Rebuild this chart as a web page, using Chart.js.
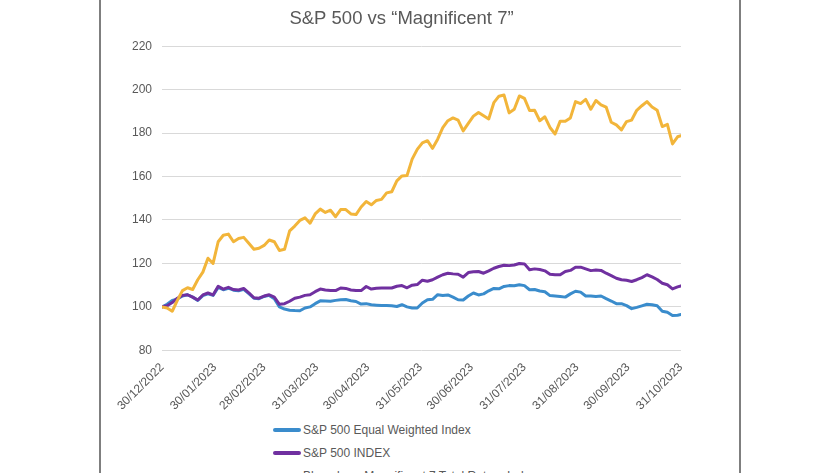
<!DOCTYPE html>
<html>
<head>
<meta charset="utf-8">
<script src="https://cdn.jsdelivr.net/npm/chart.js@4.4.1/dist/chart.umd.min.js"></script>
<style>
  html, body { margin: 0; padding: 0; background: #fff; overflow: hidden; }
  body { width: 840px; height: 473px; position: relative; font-family: "Liberation Sans", Arial, sans-serif; }
  #frame { position: absolute; left: 99px; top: -2px; width: 638px; height: 480px;
           border-left: 2px solid #7f7f7f; border-right: 2px solid #7f7f7f; }
  #chartBox { position: absolute; left: 101px; top: 0; width: 638px; height: 415px; }
  #legend { position: absolute; left: 273px; top: 418px; margin: 0; padding: 0; list-style: none; }
  #legend li { height: 23px; display: flex; align-items: center; font-size: 12px; color: #595959; }
  #legend li span { display: inline-block; width: 28px; height: 4px; border-radius: 2px; margin-right: 2px; }
</style>
</head>
<body>
<div id="frame"></div>
<div id="chartBox"><canvas id="mag7Chart"></canvas></div>
<ul id="legend"></ul>
<script>
// days since 30/12/2022
var days = [
    0, 3, 6, 9, 12, 15, 18, 21, 24, 27,
    30, 33, 36, 39, 42, 45, 48, 51, 54, 57,
    60, 63, 66, 69, 72, 75, 78, 81, 84, 87,
    90, 93, 96, 99, 102, 105, 108, 111, 114, 117,
    120, 123, 126, 129, 132, 135, 138, 141, 144, 147,
    150, 153, 156, 159, 162, 165, 168, 171, 174, 177,
    180, 183, 186, 189, 192, 195, 198, 201, 204, 207,
    210, 213, 216, 219, 222, 225, 228, 231, 234, 237,
    240, 243, 246, 249, 252, 255, 258, 261, 264, 267,
    270, 273, 276, 279, 282, 285, 288, 291, 294, 297,
    300, 303, 305
];

var equalWeighted = [
    100, 101.2, 103, 103.6, 105, 105.6, 104.5, 103, 105.2, 106,
    105.3, 109, 107.9, 108.6, 107.7, 107.4, 108.1, 106.1, 104, 103.8,
    104.8, 105.3, 103.8, 100, 99, 98.5, 98.3, 98.2, 99.5, 100,
    101.5, 102.8, 102.7, 102.6, 103, 103.3, 103.4, 102.8, 102.5, 101.3,
    101.5, 101, 100.8, 100.6, 100.6, 100.5, 100.2, 101, 100, 99.5,
    99.5, 101.8, 103.3, 103.5, 105.6, 105.2, 105.5, 104.5, 103.3, 103.2,
    105, 106.4, 105.5, 106, 107.4, 108.5, 108.3, 109.4, 109.8, 109.7,
    110.2, 109.8, 107.9, 108, 107.3, 107, 105.2, 105, 104.8, 104.5,
    106, 107.2, 106.8, 105, 105, 104.8, 105, 103.8, 102.7, 101.5,
    101.5, 100.6, 99.2, 99.8, 100.5, 101.2, 101, 100.5, 98, 97.5,
    96, 96.2, 96.5
];

var spxIndex = [
    100, 100.5, 102, 104, 105.3, 105.6, 104.5, 103.2, 105.5, 106.4,
    105.5, 109.5, 108.2, 109, 108, 107.8, 108.5, 106.5, 104.2, 104,
    105, 105.6, 104.5, 101.2, 101.5, 102.6, 104, 104.5, 105.3, 105.6,
    107, 108.2, 107.8, 107.6, 107.5, 108.7, 108.5, 107.8, 107.5, 107.5,
    109.4, 108.2, 108.6, 108.7, 108.7, 108.7, 109.5, 109.8, 108.8, 110,
    110.3, 112.3, 111.8, 112.5, 113.7, 114.8, 115.5, 115.2, 115, 113.7,
    115.8, 116.2, 116.3, 115.5, 116.6, 117.8, 118.6, 119.2, 119, 119.3,
    120, 119.8, 117.1, 117.5, 117.2, 116.6, 115, 114.8, 114.8, 116.3,
    116.8, 118.3, 118.3, 117.5, 116.7, 117, 116.8, 115.5, 114.4, 113.2,
    112.5, 112.3, 111.7, 112.5, 113.5, 114.8, 113.8, 112.6, 110.9, 110.2,
    108.3, 109.2, 109.7
];

var magnificent7 = [
    100, 99.5, 98, 103, 107.5, 108.8, 108, 112.5, 116, 122.4,
    120, 130, 133, 133.5, 130, 131.5, 132, 129.3, 126.5, 127,
    128.3, 130.8, 130, 126, 126.5, 135, 137.2, 139.8, 141, 138.5,
    142.8, 145, 143.5, 144.5, 141.5, 144.8, 144.8, 142.8, 142.5, 146,
    148.5, 147, 149, 149.5, 152.5, 153, 158, 160.3, 160.5, 168,
    172.5, 175.5, 176.5, 173, 177.2, 182.5, 185.7, 187, 186, 181,
    184.5, 187.8, 189.5, 188, 186.5, 194, 197, 197.5, 189.3, 191,
    197.1, 196, 190.4, 190.5, 185.7, 187.5, 182.6, 179.6, 185.5, 185.5,
    187, 194.5, 193.6, 195.5, 191, 195, 193, 192, 185, 183.8,
    181.5, 185.3, 186, 190.5, 192.6, 194.5, 192, 190.5, 183, 184,
    175, 178.3, 178.8
];

var tickDays = [0, 31, 60, 91, 121, 152, 182, 213, 244, 274, 305];
var tickLabels = ['30/12/2022', '30/01/2023', '28/02/2023', '31/03/2023', '30/04/2023',
    '31/05/2023', '30/06/2023', '31/07/2023', '31/08/2023', '30/09/2023', '31/10/2023'];

function toPoints(values) {
    return values.map(function(v, i) { return { x: days[i], y: v }; });
}

var textColor = '#595959';
Chart.defaults.font.family = '"Liberation Sans", Arial, sans-serif';

var ctx = document.getElementById('mag7Chart').getContext('2d');
var mag7Chart = new Chart(ctx, {
    type: 'line',
    data: {
        datasets: [{
            label: 'S&P 500 Equal Weighted Index',
            data: toPoints(equalWeighted),
            borderColor: '#3a8ccc',
            order: 1
        }, {
            label: 'S&P 500 INDEX',
            data: toPoints(spxIndex),
            borderColor: '#7030a0',
            order: 0
        }, {
            label: 'Bloomberg Magnificent 7 Total Return Index',
            data: toPoints(magnificent7),
            borderColor: '#f2b53a',
            order: -1
        }]
    },
    options: {
        responsive: true,
        maintainAspectRatio: false,
        animation: false,
        layout: { padding: { left: 21, right: 58, top: 0, bottom: 0 } },
        elements: {
            point: { radius: 0 },
            line: { borderWidth: 3, tension: 0, borderJoinStyle: 'round', borderCapStyle: 'round' }
        },
        scales: {
            x: {
                type: 'linear',
                min: 0,
                max: 305,
                afterBuildTicks: function(axis) {
                    axis.ticks = tickDays.map(function(d) { return { value: d }; });
                },
                ticks: {
                    autoSkip: false,
                    minRotation: 45,
                    maxRotation: 45,
                    color: textColor,
                    font: { size: 12 },
                    padding: 2,
                    callback: function(value) {
                        return tickLabels[tickDays.indexOf(value)];
                    }
                },
                grid: { display: false },
                border: { display: false }
            },
            y: {
                min: 80,
                max: 220,
                ticks: { stepSize: 20, color: textColor, font: { size: 12 }, padding: 10 },
                grid: { color: '#d9d9d9', drawTicks: false },
                border: { display: false }
            }
        },
        plugins: {
            legend: { display: false },
            tooltip: { enabled: false },
            title: {
                display: true,
                text: 'S&P 500 vs “Magnificent 7”',
                color: textColor,
                font: { size: 18.5, weight: 'normal' },
                padding: { top: 8, bottom: 16 }
            }
        }
    }
});

// Vertical legend below the chart
var legendHtml = '';
mag7Chart.data.datasets.forEach(function(ds) {
    legendHtml += '<li><span style="background:' + ds.borderColor + '"></span>' + ds.label + '</li>';
});
document.getElementById('legend').innerHTML = legendHtml;
</script>
</body>
</html>
